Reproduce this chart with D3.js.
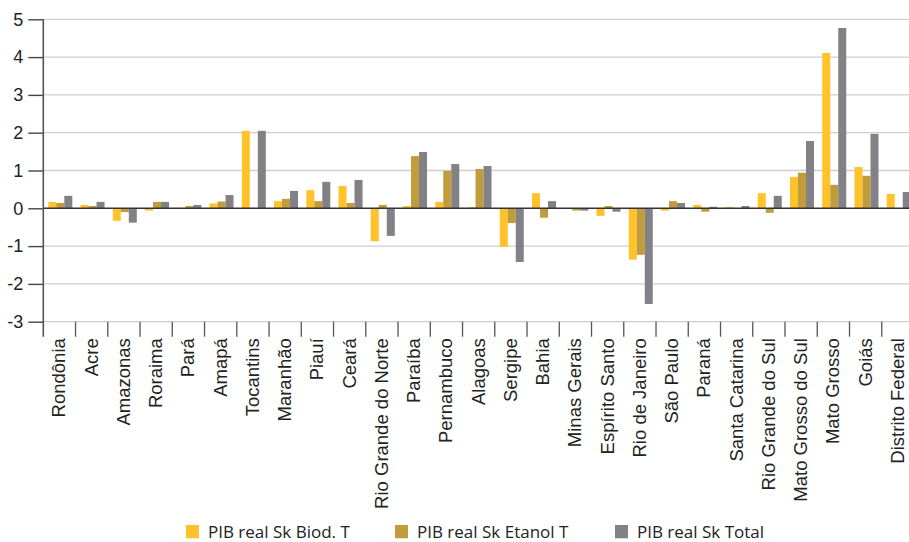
<!DOCTYPE html>
<html>
<head>
<meta charset="utf-8">
<script src="https://cdn.jsdelivr.net/npm/d3@7"></script>
<style>
  body { margin: 0; background: #fff; }
  svg { display: block; font-family: "Open Sans", sans-serif; }
</style>
</head>
<body>
<div class="chartContainer"></div>
<script>
// Data
const states = [
  "Rondônia", "Acre", "Amazonas", "Roraima", "Pará", "Amapá", "Tocantins",
  "Maranhão", "Piauí", "Ceará", "Rio Grande do Norte", "Paraíba", "Pernambuco",
  "Alagoas", "Sergipe", "Bahia", "Minas Gerais", "Espírito Santo",
  "Rio de Janeiro", "São Paulo", "Paraná", "Santa Catarina",
  "Rio Grande do Sul", "Mato Grosso do Sul", "Mato Grosso", "Goiás",
  "Distrito Federal"
];
const seriesNames = ["PIB real Sk Biod. T", "PIB real Sk Etanol T", "PIB real Sk Total"];
const biod = [
  0.17, 0.09, -0.33, -0.06, 0.01, 0.13, 2.05, 0.19, 0.48, 0.59, -0.87, 0.06,
  0.17, 0.03, -1.02, 0.40, -0.01, -0.20, -1.36, -0.06, 0.09, 0.03, 0.40,
  0.83, 4.11, 1.09, 0.38
];
const etanol = [
  0.14, 0.06, -0.10, 0.17, 0.06, 0.18, 0.00, 0.25, 0.19, 0.14, 0.09, 1.38,
  0.99, 1.04, -0.39, -0.25, -0.06, 0.06, -1.23, 0.19, -0.09, 0.00, -0.12,
  0.94, 0.62, 0.86, 0.00
];
const total = [
  0.33, 0.17, -0.38, 0.17, 0.09, 0.35, 2.05, 0.46, 0.70, 0.75, -0.73, 1.49,
  1.17, 1.12, -1.42, 0.19, -0.06, -0.09, -2.53, 0.14, 0.04, 0.06, 0.33,
  1.78, 4.77, 1.97, 0.43
];
const yTicks = [-3, -2, -1, 0, 1, 2, 3, 4, 5];
const colors = ["#ffc22b", "#c29b3b", "#828286"];

const W = 909;
const H = 542;
const LEFT = 43.3;
const RIGHT = 914;
const TOP = 19.3;
const BOTTOM = 321.7;

const svg = d3.select(".chartContainer")
  .append("svg")
  .attr("width", W)
  .attr("height", H);

const x0 = d3.scaleBand().domain(states).range([LEFT, RIGHT]);
const x1 = d3.scaleBand().domain([0, 1, 2]).range([5, 29]);
const y = d3.scaleLinear().domain([-3, 5]).range([BOTTOM, TOP]);

// Gridlines
svg.append("g")
  .selectAll("line")
  .data(yTicks.filter((d) => d !== 0))
  .enter()
  .append("line")
  .attr("x1", LEFT)
  .attr("x2", W)
  .attr("y1", (d) => y(d))
  .attr("y2", (d) => y(d))
  .attr("stroke", "#cfcfcf")
  .attr("stroke-width", 1.3);

// Bars
const rows = states.map((s, i) => ({ state: s, vals: [biod[i], etanol[i], total[i]] }));
svg.append("g")
  .selectAll("g")
  .data(rows)
  .enter()
  .append("g")
  .attr("transform", (d) => "translate(" + x0(d.state) + ",0)")
  .selectAll("rect")
  .data((d) => d.vals)
  .enter()
  .append("rect")
  .attr("x", (d, i) => x1(i))
  .attr("width", x1.bandwidth())
  .attr("y", (d) => y(Math.max(0, d)))
  .attr("height", (d) => Math.abs(y(d) - y(0)))
  .attr("fill", (d, i) => colors[i]);

// Zero line
svg.append("line")
  .attr("x1", LEFT)
  .attr("x2", W)
  .attr("y1", y(0))
  .attr("y2", y(0))
  .attr("stroke", "#333")
  .attr("stroke-width", 1.6);

// Y axis
const yAxis = svg.append("g")
  .attr("transform", "translate(" + LEFT + ",0)")
  .call(d3.axisLeft(y).tickValues(yTicks).tickSize(15).tickPadding(5).tickFormat(d3.format("d")));
yAxis.select(".domain").remove();
yAxis.selectAll(".tick line").attr("stroke", "#444").attr("stroke-width", 1.4);
yAxis.selectAll("text")
  .attr("fill", "#222")
  .style("font-size", "18px")
  .text((d) => (d < 0 ? "-" + Math.abs(d) : d));
svg.append("line")
  .attr("x1", LEFT)
  .attr("x2", LEFT)
  .attr("y1", TOP)
  .attr("y2", BOTTOM + 15)
  .attr("stroke", "#555")
  .attr("stroke-width", 1.6);

// X axis
const xAxis = svg.append("g")
  .attr("transform", "translate(0," + BOTTOM + ")")
  .call(d3.axisBottom(x0).tickSize(0).tickPadding(0));
xAxis.select(".domain").remove();
xAxis.selectAll(".tick line").remove();
xAxis.selectAll("text")
  .attr("transform", "rotate(-90)")
  .attr("x", -16.5)
  .attr("y", -0.5)
  .attr("dy", "0.35em")
  .attr("text-anchor", "end")
  .attr("fill", "#222")
  .style("font-size", "18.5px");

// Category separators
svg.append("g")
  .selectAll("line")
  .data(states.slice(1))
  .enter()
  .append("line")
  .attr("x1", (d) => x0(d))
  .attr("x2", (d) => x0(d))
  .attr("y1", BOTTOM)
  .attr("y2", BOTTOM + 15)
  .attr("stroke", "#555")
  .attr("stroke-width", 1.3);

// Legend
const legendX = [186, 395, 615];
const legend = svg.append("g").attr("id", "legend");
legend.selectAll("rect")
  .data(seriesNames)
  .enter()
  .append("rect")
  .attr("x", (d, i) => legendX[i])
  .attr("y", 525)
  .attr("width", 13)
  .attr("height", 13.3)
  .attr("fill", (d, i) => colors[i]);
legend.selectAll("text")
  .data(seriesNames)
  .enter()
  .append("text")
  .attr("x", (d, i) => legendX[i] + 22)
  .attr("y", 537.8)
  .attr("fill", "#222")
  .style("font-size", "17px")
  .text((d) => d);
</script>
</body>
</html>
